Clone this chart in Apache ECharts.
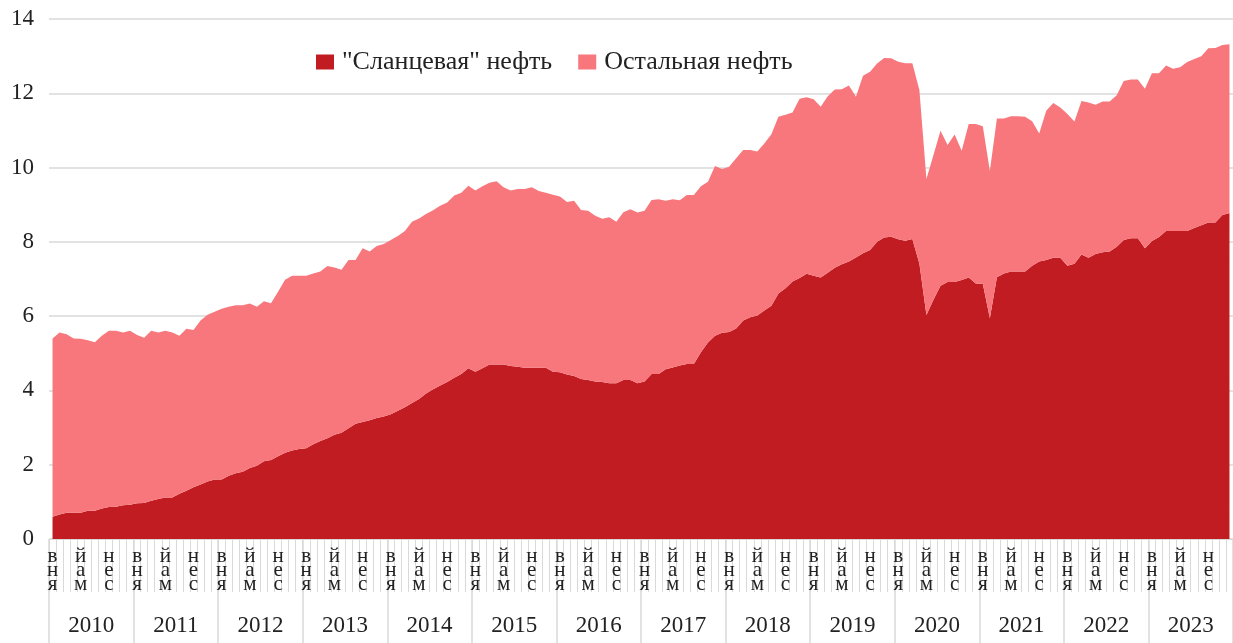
<!DOCTYPE html>
<html>
<head>
<meta charset="utf-8">
<script src="https://cdn.jsdelivr.net/npm/echarts@6/dist/echarts.min.js"></script>
<style>
    html, body { margin: 0; padding: 0; background: #fff; }
    #chart { width: 1233px; height: 643px; }
</style>
</head>
<body>
<div id="chart"></div>
<script>
// годы и месяцы по оси X
var years = ['2010', '2011', '2012', '2013', '2014', '2015', '2016', '2017', '2018', '2019', '2020', '2021', '2022', '2023'];
var monthNames = ['янв', 'фев', 'мар', 'апр', 'май', 'июн', 'июл', 'авг', 'сен', 'окт', 'ноя', 'дек'];
// подписи делений оси Y
var yTicks = [0, 2, 4, 6, 8, 10, 12, 14];

// добыча "сланцевой" нефти, по месяцам
var shaleOil = [
    0.60, 0.66, 0.71, 0.71, 0.71, 0.76, 0.76, 0.82, 0.86, 0.87, 0.91, 0.92,
    0.96, 0.97, 1.03, 1.08, 1.12, 1.12, 1.22, 1.30, 1.39, 1.47, 1.55, 1.60,
    1.60, 1.70, 1.77, 1.81, 1.91, 1.97, 2.09, 2.13, 2.23, 2.32, 2.38, 2.42,
    2.44, 2.55, 2.64, 2.71, 2.81, 2.86, 2.98, 3.10, 3.15, 3.20, 3.26, 3.30,
    3.36, 3.45, 3.55, 3.66, 3.77, 3.92, 4.03, 4.13, 4.23, 4.34, 4.44, 4.60,
    4.50, 4.60, 4.70, 4.70, 4.70, 4.66, 4.64, 4.61, 4.61, 4.61, 4.61, 4.50,
    4.49, 4.43, 4.39, 4.31, 4.28, 4.24, 4.23, 4.19, 4.19, 4.28, 4.28, 4.19,
    4.24, 4.44, 4.44, 4.57, 4.62, 4.67, 4.71, 4.71, 5.03, 5.29, 5.47, 5.55,
    5.57, 5.67, 5.88, 5.97, 6.02, 6.15, 6.28, 6.61, 6.75, 6.93, 7.03, 7.14,
    7.09, 7.04, 7.17, 7.30, 7.40, 7.47, 7.58, 7.69, 7.78, 8.00, 8.12, 8.14,
    8.07, 8.03, 8.08, 7.42, 6.03, 6.44, 6.82, 6.92, 6.92, 6.97, 7.04, 6.88,
    6.87, 5.94, 7.05, 7.15, 7.20, 7.20, 7.20, 7.36, 7.47, 7.51, 7.57, 7.57,
    7.36, 7.41, 7.66, 7.57, 7.67, 7.72, 7.74, 7.87, 8.05, 8.10, 8.10, 7.83,
    8.02, 8.13, 8.29, 8.29, 8.29, 8.29, 8.37, 8.45, 8.52, 8.52, 8.72, 8.78
];

// общая добыча (верхняя граница графика), по месяцам
var totalOil = [
    5.40, 5.56, 5.51, 5.40, 5.39, 5.35, 5.30, 5.47, 5.61, 5.61, 5.56, 5.61,
    5.49, 5.42, 5.61, 5.56, 5.61, 5.56, 5.47, 5.66, 5.63, 5.88, 6.04, 6.12,
    6.20, 6.25, 6.29, 6.29, 6.34, 6.25, 6.40, 6.35, 6.66, 6.98, 7.09, 7.09,
    7.09, 7.15, 7.20, 7.35, 7.31, 7.25, 7.51, 7.51, 7.83, 7.74, 7.89, 7.94,
    8.05, 8.16, 8.29, 8.54, 8.63, 8.75, 8.85, 8.97, 9.06, 9.25, 9.32, 9.51,
    9.38, 9.50, 9.59, 9.63, 9.47, 9.38, 9.42, 9.42, 9.47, 9.37, 9.32, 9.27,
    9.22, 9.07, 9.11, 8.86, 8.84, 8.70, 8.62, 8.66, 8.54, 8.80, 8.88, 8.79,
    8.84, 9.13, 9.15, 9.11, 9.15, 9.12, 9.26, 9.26, 9.50, 9.62, 10.04, 9.96,
    10.02, 10.25, 10.47, 10.47, 10.43, 10.65, 10.90, 11.37, 11.42, 11.48, 11.85, 11.89,
    11.84, 11.64, 11.92, 12.10, 12.11, 12.21, 11.91, 12.47, 12.58, 12.80, 12.95, 12.94,
    12.85, 12.81, 12.81, 12.09, 9.69, 10.34, 10.99, 10.61, 10.89, 10.45, 11.17, 11.17,
    11.11, 9.91, 11.32, 11.32, 11.38, 11.38, 11.37, 11.25, 10.92, 11.53, 11.74, 11.62,
    11.44, 11.24, 11.79, 11.75, 11.69, 11.78, 11.78, 11.95, 12.33, 12.37, 12.37, 12.12,
    12.54, 12.54, 12.75, 12.66, 12.70, 12.84, 12.92, 13.00, 13.21, 13.22, 13.30, 13.32
];

// остальная нефть = общая минус сланцевая (для стека)
var otherOil = totalOil.map(function (t, i) {
    return +(t - shaleOil[i]).toFixed(2);
});

// категории: "янв 2010", "фев 2010", ...
var categories = [];
for (var y = 0; y < years.length; y++) {
    for (var m = 0; m < monthNames.length; m++) {
        categories.push(monthNames[m] + ' ' + years[y]);
    }
}

var font = 'Liberation Serif, Times New Roman, serif';
var gray = '#d9d9d9';

var chart = echarts.init(document.getElementById('chart'));

var option = {
    animation: false,
    textStyle: { fontFamily: font },
    legend: {
        data: ['"Сланцевая" нефть', 'Остальная нефть'],
        left: 311,
        top: 44,
        icon: 'rect',
        itemWidth: 18,
        itemHeight: 15,
        itemGap: 26,
        textStyle: { fontFamily: font, fontSize: 26, color: '#222', padding: [0, 0, 0, 3] }
    },
    grid: {
        left: 49,
        right: -13,
        top: 19,
        bottom: 104
    },
    xAxis: [
        {
            type: 'category',
            position: 'bottom',
            offset: 0,
            data: categories,
            boundaryGap: true,
            axisLine: { show: true, lineStyle: { color: gray, width: 1 } },
            axisTick: { show: true, interval: 0, length: 53, lineStyle: { color: gray, width: 1 } },
            axisLabel: {
                interval: 0,
                margin: 10,
                fontFamily: font,
                fontSize: 21,
                lineHeight: 14,
                color: '#222',
                formatter: function (value, index) {
                    var m = index % 12;
                    if (m % 4 !== 0) return '';
                    // буквы сверху вниз в обратном порядке, как в исходнике
                    return value.split(' ')[0].split('').reverse().join('\n');
                }
            }
        },
        {
            type: 'category',
            position: 'bottom',
            offset: 0,
            data: years,
            boundaryGap: true,
            axisLine: { show: false },
            axisTick: { show: true, interval: 0, length: 110, lineStyle: { color: gray, width: 1.5 } },
            axisLabel: {
                interval: 0,
                margin: 75,
                fontFamily: font,
                fontSize: 23,
                color: '#222'
            }
        }
    ],
    yAxis: {
        type: 'value',
        min: yTicks[0],
        max: yTicks[yTicks.length - 1],
        interval: 2,
        axisLine: { show: false },
        axisTick: { show: false },
        splitLine: { lineStyle: { color: gray, width: 1.5 } },
        axisLabel: { margin: 15, fontFamily: font, fontSize: 23, color: '#222' }
    },
    series: [
        {
            name: '"Сланцевая" нефть',
            type: 'line',
            xAxisIndex: 0,
            stack: 'oil',
            data: shaleOil,
            symbol: 'none',
            lineStyle: { width: 0 },
            itemStyle: { color: '#C11C22' },
            areaStyle: { color: '#C11C22', opacity: 1 }
        },
        {
            name: 'Остальная нефть',
            type: 'line',
            xAxisIndex: 0,
            stack: 'oil',
            data: otherOil,
            symbol: 'none',
            lineStyle: { width: 0 },
            itemStyle: { color: '#F7777C' },
            areaStyle: { color: '#F7777C', opacity: 1 }
        }
    ]
};

chart.setOption(option);
</script>
</body>
</html>
